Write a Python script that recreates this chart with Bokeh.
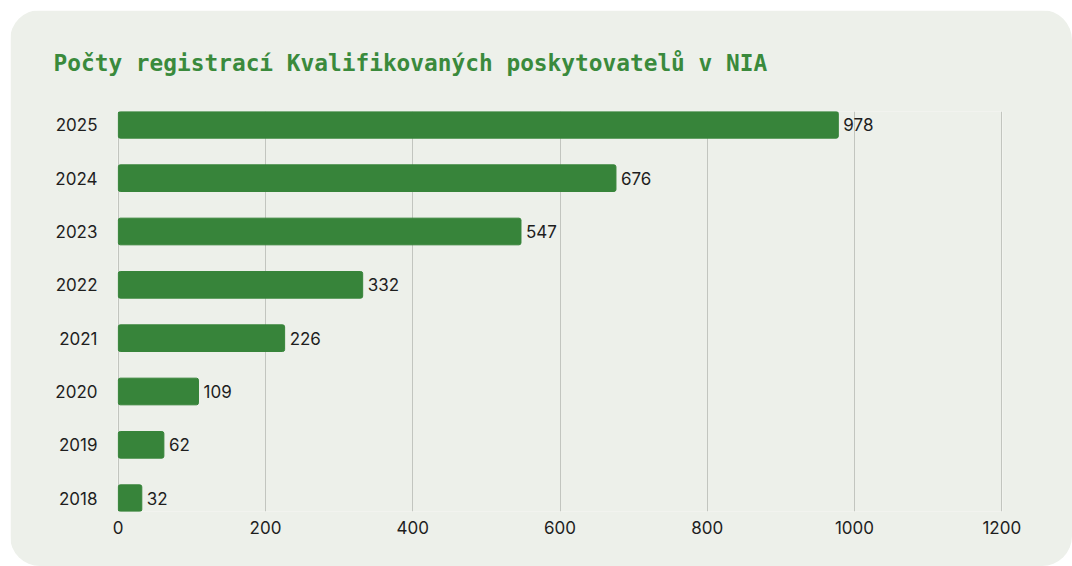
from bokeh.plotting import figure
from bokeh.models import Range1d, FixedTicker, ColumnDataSource, Title
from bokeh.core.properties import value
from bokeh.embed import file_html
from bokeh.resources import INLINE

years = ["2018", "2019", "2020", "2021", "2022", "2023", "2024", "2025"]
counts = [32, 62, 109, 226, 332, 547, 676, 978]
x_ticks = [0, 200, 400, 600, 800, 1000, 1200]
title_text = "Počty registrací Kvalifikovaných poskytovatelů v NIA"

BG = "#EDF0EA"
GREEN = "#37843A"
TXT = "#1E1E1E"
FONT = "Inter"

idx = list(range(len(years)))
src = ColumnDataSource(dict(y=idx, v=counts, lab=[str(c) for c in counts]))

p = figure(width=1062, height=556, output_backend="svg", toolbar_location=None,
           x_range=Range1d(-1, 1201), y_range=Range1d(-0.25, len(years) - 0.75),
           min_border_left=107, min_border_right=70, min_border_top=101, min_border_bottom=55,
           background_fill_color=BG, border_fill_color=BG, outline_line_color=None)
p.margin = (10, 0, 0, 10)
p.styles = {"border-radius": "30px", "overflow": "hidden"}

p.xgrid.grid_line_color = "#C2C5BF"
p.xgrid.grid_line_width = 1
p.xgrid.ticker = FixedTicker(ticks=x_ticks)
p.ygrid.grid_line_color = None

p.hbar(y="y", right="v", left=0, height=0.5, source=src, fill_color=GREEN,
       line_color=GREEN, line_width=1, border_radius=2)
p.text(x="v", y="y", text="lab", source=src, x_offset=5, text_baseline="middle",
       text_align="left", text_font=value(FONT), text_font_size="17px", text_color=TXT)

t = Title(text=title_text, align="left", text_font="DejaVu Sans Mono", text_font_style="bold",
          text_font_size="22.8px", text_color="#3A8A3C", offset=-64, standoff=72)
p.add_layout(t, "above")

p.xaxis.ticker = FixedTicker(ticks=x_ticks)
p.yaxis.ticker = FixedTicker(ticks=idx)
p.yaxis.major_label_overrides = {i: y for i, y in zip(idx, years)}
for ax in (p.xaxis, p.yaxis):
    ax.axis_line_color = None
    ax.major_tick_line_color = None
    ax.minor_tick_line_color = None
    ax.major_label_text_font = FONT
    ax.major_label_text_font_size = "17px"
    ax.major_label_text_color = TXT
p.xaxis.major_label_standoff = 3
p.yaxis.major_label_standoff = 14

open("out.html", "w").write(file_html(p, INLINE))
